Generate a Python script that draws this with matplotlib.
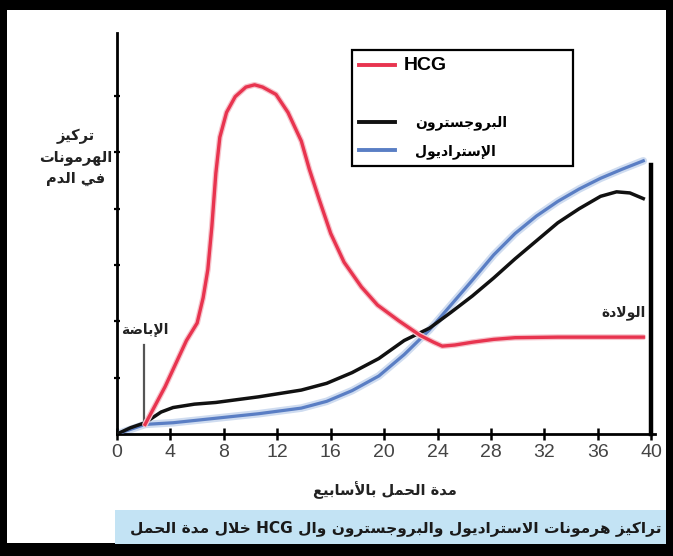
import re
import matplotlib
matplotlib.use('Agg')
from matplotlib import pyplot as plt
from matplotlib.lines import Line2D
from matplotlib.patches import Rectangle

# weeks of pregnancy and relative hormone levels
hcg_weeks = [2.1, 3.6, 5.2, 6.0, 6.45, 6.8, 7.1, 7.4, 7.7, 8.2, 8.85, 9.65, 10.3, 10.9,
             11.9, 12.8, 13.8, 14.4, 15.1, 16.0, 17.0, 18.3, 19.5, 21.1, 22.7, 23.7,
             24.35, 25.3, 26.6, 28.2, 29.8, 33.0, 39.4]
hcg = [0.17, 0.84, 1.66, 1.97, 2.42, 2.92, 3.68, 4.63, 5.27, 5.71, 5.99, 6.16, 6.20, 6.16,
       6.03, 5.71, 5.20, 4.70, 4.19, 3.56, 3.05, 2.61, 2.29, 2.01, 1.75, 1.63,
       1.56, 1.58, 1.63, 1.68, 1.71, 1.72, 1.72]

prog_weeks = [0, 1.0, 2.1, 3.3, 4.2, 5.8, 7.4, 10.6, 13.8, 15.7, 17.6, 19.6, 21.5, 23.4,
              25.0, 26.6, 28.2, 29.8, 31.4, 33.0, 34.6, 36.2, 37.4, 38.4, 39.4]
prog = [0, 0.11, 0.2, 0.39, 0.47, 0.53, 0.56, 0.66, 0.78, 0.90, 1.09, 1.34, 1.66, 1.88,
        2.16, 2.45, 2.77, 3.11, 3.43, 3.75, 4.0, 4.22, 4.30, 4.28, 4.18]

estr_weeks = [0, 2.1, 4.2, 7.4, 10.6, 13.8, 15.7, 17.6, 19.6, 21.5, 23.4, 25.0, 26.6,
              28.2, 29.8, 31.4, 33.0, 34.6, 36.2, 37.8, 39.4]
estr = [0, 0.17, 0.20, 0.28, 0.36, 0.46, 0.58, 0.77, 1.03, 1.41, 1.85, 2.29, 2.73,
        3.18, 3.56, 3.87, 4.13, 4.35, 4.54, 4.70, 4.85]

x_ticks = [0, 4, 8, 12, 16, 20, 24, 28, 32, 36, 40]
y_ticks = [1, 2, 3, 4, 5, 6]

ovulation_week, ovulation_top = 2.0, 1.58
birth_week, birth_top = 40.0, 4.78

FORMS = {
    'ا': (0xFE8D, 0xFE8E), 'أ': (0xFE83, 0xFE84), 'إ': (0xFE87, 0xFE88),
    'ب': (0xFE8F, 0xFE90, 0xFE91, 0xFE92), 'ة': (0xFE93, 0xFE94),
    'ت': (0xFE95, 0xFE96, 0xFE97, 0xFE98), 'ج': (0xFE9D, 0xFE9E, 0xFE9F, 0xFEA0),
    'ح': (0xFEA1, 0xFEA2, 0xFEA3, 0xFEA4), 'خ': (0xFEA5, 0xFEA6, 0xFEA7, 0xFEA8),
    'د': (0xFEA9, 0xFEAA), 'ر': (0xFEAD, 0xFEAE), 'ز': (0xFEAF, 0xFEB0),
    'س': (0xFEB1, 0xFEB2, 0xFEB3, 0xFEB4), 'ض': (0xFEBD, 0xFEBE, 0xFEBF, 0xFEC0),
    'ع': (0xFEC9, 0xFECA, 0xFECB, 0xFECC), 'ف': (0xFED1, 0xFED2, 0xFED3, 0xFED4),
    'ك': (0xFED9, 0xFEDA, 0xFEDB, 0xFEDC), 'ل': (0xFEDD, 0xFEDE, 0xFEDF, 0xFEE0),
    'م': (0xFEE1, 0xFEE2, 0xFEE3, 0xFEE4), 'ن': (0xFEE5, 0xFEE6, 0xFEE7, 0xFEE8),
    'ه': (0xFEE9, 0xFEEA, 0xFEEB, 0xFEEC), 'و': (0xFEED, 0xFEEE),
    'ي': (0xFEF1, 0xFEF2, 0xFEF3, 0xFEF4),
    'لا': (0xFEFB, 0xFEFC), 'لأ': (0xFEF7, 0xFEF8), 'لإ': (0xFEF9, 0xFEFA),
}


def ar(text):
    """Shape arabic letters and put them in visual order (no bidi engine in mpl)."""
    lines = []
    for line in text.split('\n'):
        units, i = [], 0
        while i < len(line):
            if line[i:i + 2] in FORMS:
                units.append(line[i:i + 2])
                i += 2
            else:
                units.append(line[i])
                i += 1
        out = []
        for k, u in enumerate(units):
            f = FORMS.get(u)
            if f is None:
                out.append(u)
                continue
            prev = units[k - 1] if k > 0 else None
            nxt = units[k + 1] if k + 1 < len(units) else None
            jp = prev in FORMS and len(FORMS[prev]) == 4
            jn = len(f) == 4 and nxt in FORMS
            idx = 3 if (jp and jn) else 1 if jp else 2 if jn else 0
            out.append(chr(f[idx]))
        s = ''.join(out)[::-1]
        s = re.sub(r'[A-Za-z0-9]+', lambda m: m.group(0)[::-1], s)
        lines.append(s)
    return '\n'.join(lines)


W, H = 673, 556
fig = plt.figure(figsize=(W / 100, H / 100), dpi=100, facecolor='black')
fig.patches.append(Rectangle((7 / W, 1 - 543 / H), (666 - 7) / W, (543 - 10) / H,
                             transform=fig.transFigure, facecolor='white', edgecolor='none', zorder=-2))
fig.patches.append(Rectangle((115 / W, 1 - 544 / H), (666 - 115) / W, (544 - 510) / H,
                             transform=fig.transFigure, facecolor='#c3e3f4', edgecolor='none', zorder=-1))

ax = fig.add_axes([117 / W, 1 - 434 / H, 538.3 / W, (434 - 33) / H])
ax.set_facecolor('none')
ax.set_zorder(3)

red, black, blue = '#e8344f', '#111111', '#5a7ec4'
ax.plot(estr_weeks, estr, color='#cfdcf0', lw=5.5, solid_capstyle='round', zorder=2)
ax.plot(estr_weeks, estr, color=blue, lw=2.3, zorder=3)
ax.plot(prog_weeks, prog, color=black, lw=2.5, zorder=4)
ax.plot(hcg_weeks, hcg, color='#f6c4cc', lw=4.2, solid_capstyle='round', zorder=4)
ax.plot(hcg_weeks, hcg, color=red, lw=2.4, zorder=5)

ax.plot([ovulation_week, ovulation_week], [0.17, ovulation_top], color='#555555', lw=1.6, zorder=1)
ax.plot([birth_week, birth_week], [0, birth_top], color='black', lw=3.2, zorder=6, clip_on=False)

ax.text(ovulation_week + 0.1, ovulation_top + 0.15, ar('الإباضة'), ha='center', va='bottom',
        fontsize=10, fontweight='bold', color='#222222')
ax.text(birth_week - 0.4, 2.15, ar('الولادة'), ha='right', va='center',
        fontsize=10, fontweight='bold', color='#222222')

ax.set_xlim(0, 40.3)
ax.set_ylim(0, 7.12)
ax.set_xticks(x_ticks)
ax.set_xticklabels([str(t) for t in x_ticks], fontsize=14, color='#444444', family='Liberation Sans')
ax.set_yticks(y_ticks)
ax.set_yticklabels([])
ax.tick_params(axis='x', direction='inout', length=9, width=1.8, pad=3)
ax.tick_params(axis='y', direction='inout', length=5, width=1.6)
for side in ['top', 'right']:
    ax.spines[side].set_visible(False)
for side in ['left', 'bottom']:
    ax.spines[side].set_linewidth(2)

handles = [Line2D([], [], color=red, lw=2.8), Line2D([], [], color='none'),
           Line2D([], [], color=black, lw=2.8), Line2D([], [], color=blue, lw=2.8)]
labels = ['HCG', ' ', ar('البروجسترون'), ar('الإستراديول')]
leg = ax.legend(handles, labels, loc='upper left', bbox_to_anchor=(0.4366, 0.958, 0.41, 0.0),
                mode='expand', fancybox=False, framealpha=1, edgecolor='black',
                handlelength=2.6, handletextpad=0.6, labelspacing=1.0, borderpad=0.5,
                borderaxespad=0, prop={'size': 10, 'weight': 'bold'})
leg.get_frame().set_linewidth(1.6)
t0 = leg.get_texts()[0]
t0.set_fontsize(14)
t0.set_family('Liberation Sans')
for t in leg.get_texts()[2:]:
    t.set_x(12)

fig.text(76 / W, 1 - 157 / H, ar('تركيز\nالهرمونات\nفي الدم'), ha='center', va='center',
         fontsize=10.5, fontweight='bold', color='#222222', linespacing=1.45)
fig.text(385 / W, 1 - 490 / H, ar('مدة الحمل بالأسابيع'), ha='center', va='center',
         fontsize=10.5, fontweight='bold', color='#222222')
fig.text(661 / W, 1 - 528 / H, ar('تراكيز هرمونات الاستراديول والبروجسترون وال HCG خلال مدة الحمل'),
         ha='right', va='center', fontsize=11.1, fontweight='bold', color='#1a1a1a')

fig.savefig('out.png', dpi=100, facecolor='black')
